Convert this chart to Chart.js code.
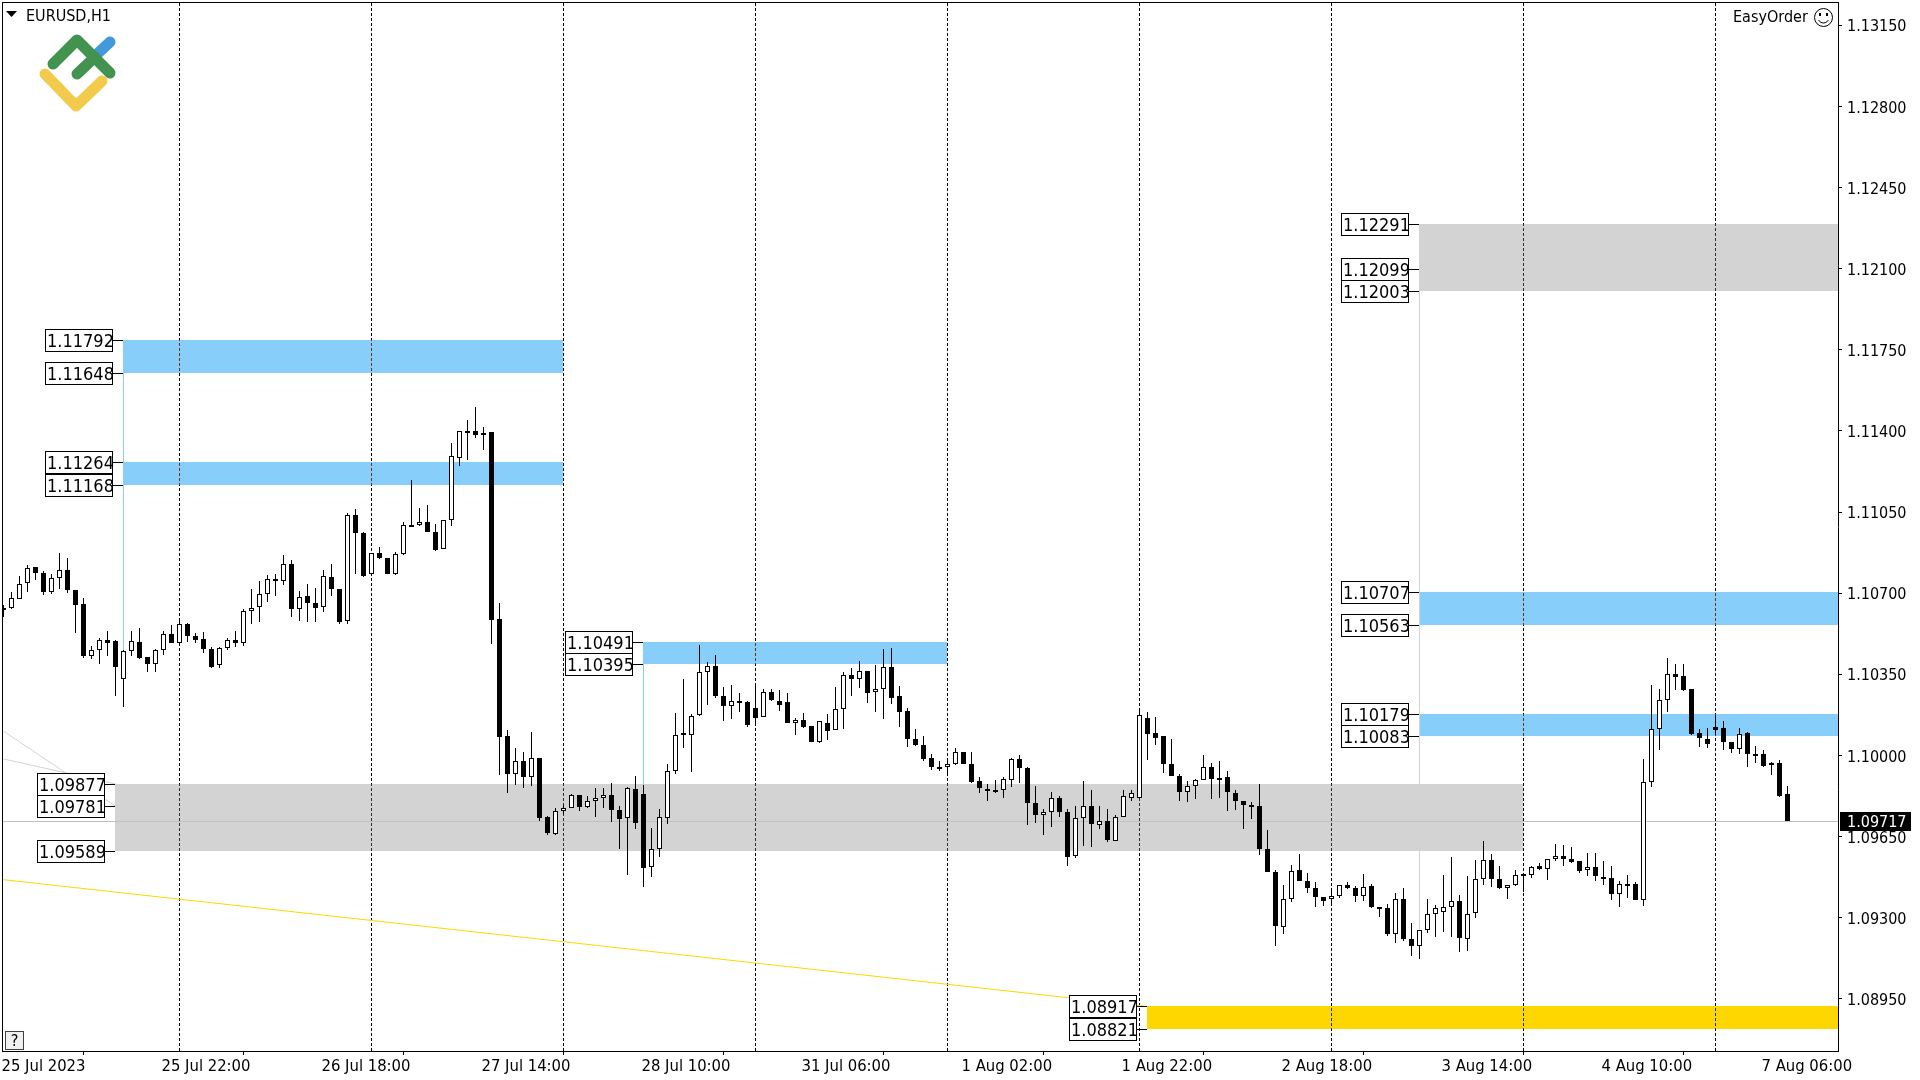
<!DOCTYPE html>
<html>
<head>
<meta charset="utf-8">
<title>EURUSD,H1</title>
<script src="https://cdn.jsdelivr.net/npm/chart.js@4/dist/chart.umd.js"></script>
<style>html,body{margin:0;padding:0;background:#fff}canvas{display:block}</style>
</head>
<body>
<canvas id="c" width="1920" height="1080"></canvas>
<script>
const opens = [1.10627,1.10635,1.10674,1.10743,1.10813,1.10788,1.10703,1.10765,1.10800,1.10713,
1.10653,1.10428,1.10454,1.10497,1.10493,1.10329,1.10450,1.10489,1.10424,1.10396,
1.10454,1.10523,1.10484,1.10566,1.10515,1.10502,1.10458,1.10389,1.10463,1.10497,
1.10483,1.10623,1.10640,1.10696,1.10761,1.10752,1.10826,1.10631,1.10687,1.10657,
1.10640,1.10769,1.10718,1.10579,1.11039,1.10961,1.10782,1.10873,1.10851,1.10782,
1.10868,1.10992,1.10992,1.11007,1.10963,1.10890,1.11015,1.11283,1.11398,1.11400,
1.11382,1.11395,1.10588,1.10082,1.09922,1.09974,1.09909,1.09987,1.09736,1.09661,
1.09762,1.09775,1.09831,1.09779,1.09805,1.09818,1.09831,1.09766,1.09728,1.09857,
1.09835,1.09520,1.09598,1.09732,1.09935,1.10095,1.10090,1.10173,1.10359,1.10385,
1.10255,1.10212,1.10236,1.10229,1.10203,1.10164,1.10272,1.10237,1.10229,1.10142,
1.10155,1.10125,1.10059,1.10142,1.10108,1.10199,1.10345,1.10328,1.10363,1.10272,
1.10285,1.10380,1.10255,1.10190,1.10069,1.10047,1.09991,1.09951,1.09948,1.09965,
1.10013,1.09965,1.09888,1.09856,1.09853,1.09852,1.09896,1.09983,1.09944,1.09797,
1.09744,1.09754,1.09818,1.09758,1.09566,1.09728,1.09784,1.09700,1.09719,1.09631,
1.09736,1.09817,1.09817,1.10160,1.10095,1.10082,1.09965,1.09913,1.09844,1.09870,
1.09892,1.09948,1.09902,1.09905,1.09840,1.09805,1.09787,1.09780,1.09598,1.09499,
1.09261,1.09382,1.09507,1.09460,1.09430,1.09391,1.09382,1.09394,1.09441,1.09430,
1.09394,1.09438,1.09346,1.09343,1.09229,1.09382,1.09209,1.09178,1.09247,1.09316,
1.09325,1.09348,1.09374,1.09210,1.09322,1.09465,1.09551,1.09469,1.09430,1.09439,
1.09489,1.09486,1.09521,1.09512,1.09554,1.09568,1.09555,1.09543,1.09504,1.09517,
1.09476,1.09473,1.09403,1.09445,1.09447,1.09378,1.09884,1.10113,1.10238,1.10350,
1.10342,1.10286,1.10095,1.10070,1.10121,1.10117,1.10057,1.10026,1.10095,1.10008,
1.10005,1.09957,1.09966,1.09832];
const highs = [1.10651,1.10705,1.10774,1.10821,1.10813,1.10794,1.10782,1.10875,1.10853,1.10713,
1.10679,1.10471,1.10506,1.10536,1.10497,1.10454,1.10536,1.10549,1.10424,1.10458,
1.10536,1.10562,1.10588,1.10571,1.10527,1.10532,1.10467,1.10466,1.10506,1.10536,
1.10631,1.10718,1.10752,1.10778,1.10782,1.10866,1.10843,1.10709,1.10739,1.10722,
1.10800,1.10826,1.10718,1.11048,1.11065,1.10964,1.10873,1.10899,1.10851,1.10877,
1.11007,1.11188,1.11067,1.11080,1.10998,1.11015,1.11348,1.11400,1.11447,1.11503,
1.11417,1.11395,1.10657,1.10108,1.10034,1.10013,1.10099,1.09991,1.09740,1.09775,
1.09788,1.09835,1.09831,1.09827,1.09861,1.09861,1.09883,1.09784,1.09866,1.09913,
1.09874,1.09689,1.09771,1.09965,1.10185,1.10330,1.10180,1.10475,1.10402,1.10432,
1.10294,1.10302,1.10268,1.10236,1.10302,1.10285,1.10285,1.10281,1.10268,1.10160,
1.10181,1.10125,1.10147,1.10177,1.10294,1.10358,1.10376,1.10406,1.10363,1.10389,
1.10459,1.10462,1.10298,1.10203,1.10116,1.10082,1.10008,1.09978,1.09990,1.10030,
1.10013,1.10017,1.09909,1.09875,1.09892,1.09909,1.09991,1.10004,1.09948,1.09870,
1.09767,1.09844,1.09823,1.09771,1.09780,1.09888,1.09849,1.09784,1.09767,1.09745,
1.09853,1.09853,1.10199,1.10186,1.10168,1.10082,1.10073,1.09922,1.09888,1.09898,
1.10004,1.09966,1.09974,1.09931,1.09849,1.09805,1.09801,1.09875,1.09680,1.09507,
1.09443,1.09529,1.09576,1.09494,1.09456,1.09391,1.09425,1.09441,1.09456,1.09437,
1.09490,1.09447,1.09346,1.09360,1.09408,1.09430,1.09278,1.09247,1.09382,1.09356,
1.09486,1.09560,1.09400,1.09478,1.09547,1.09629,1.09573,1.09521,1.09443,1.09504,
1.09495,1.09521,1.09534,1.09555,1.09616,1.09612,1.09603,1.09543,1.09581,1.09581,
1.09543,1.09525,1.09460,1.09486,1.09456,1.09983,1.10303,1.10286,1.10419,1.10394,
1.10394,1.10286,1.10113,1.10117,1.10173,1.10147,1.10057,1.10117,1.10103,1.10039,
1.10022,1.09970,1.09979,1.09867];
const lows = [1.10599,1.10630,1.10674,1.10707,1.10759,1.10690,1.10695,1.10719,1.10699,1.10530,
1.10422,1.10414,1.10396,1.10427,1.10258,1.10211,1.10427,1.10414,1.10358,1.10358,
1.10435,1.10483,1.10476,1.10491,1.10487,1.10444,1.10379,1.10379,1.10453,1.10466,
1.10474,1.10569,1.10574,1.10664,1.10686,1.10735,1.10599,1.10578,1.10575,1.10575,
1.10617,1.10686,1.10569,1.10566,1.10783,1.10770,1.10779,1.10846,1.10781,1.10777,
1.10866,1.10990,1.10988,1.10962,1.10884,1.10890,1.10988,1.11247,1.11273,1.11368,
1.11316,1.10482,1.09915,1.09838,1.09873,1.09860,1.09869,1.09717,1.09657,1.09657,
1.09748,1.09775,1.09761,1.09774,1.09735,1.09774,1.09713,1.09596,1.09484,1.09683,
1.09432,1.09475,1.09562,1.09704,1.09920,1.10033,1.09929,1.10172,1.10219,1.10249,
1.10150,1.10158,1.10189,1.10124,1.10137,1.10164,1.10236,1.10193,1.10141,1.10089,
1.10119,1.10059,1.10055,1.10068,1.10108,1.10115,1.10258,1.10292,1.10227,1.10188,
1.10158,1.10223,1.10124,1.10037,1.10042,1.09977,1.09938,1.09934,1.09926,1.09960,
1.09964,1.09882,1.09839,1.09802,1.09837,1.09817,1.09864,1.09882,1.09700,1.09709,
1.09657,1.09692,1.09735,1.09523,1.09558,1.09610,1.09605,1.09683,1.09627,1.09631,
1.09736,1.09804,1.09817,1.09981,1.10046,1.09925,1.09912,1.09804,1.09800,1.09811,
1.09892,1.09813,1.09817,1.09761,1.09765,1.09683,1.09726,1.09571,1.09497,1.09178,
1.09229,1.09368,1.09458,1.09407,1.09346,1.09350,1.09350,1.09385,1.09424,1.09368,
1.09372,1.09342,1.09303,1.09221,1.09191,1.09199,1.09134,1.09121,1.09234,1.09216,
1.09239,1.09217,1.09152,1.09157,1.09299,1.09443,1.09433,1.09423,1.09381,1.09435,
1.09409,1.09473,1.09504,1.09463,1.09543,1.09524,1.09534,1.09495,1.09478,1.09460,
1.09443,1.09377,1.09347,1.09386,1.09378,1.09351,1.09862,1.10025,1.10186,1.10283,
1.10280,1.10087,1.10038,1.10034,1.10087,1.10025,1.10012,1.10008,1.09951,1.09969,
1.09951,1.09917,1.09822,1.09717];
const closes = [1.10635,1.10679,1.10739,1.10808,1.10787,1.10703,1.10765,1.10800,1.10712,1.10651,
1.10427,1.10454,1.10497,1.10487,1.10383,1.10450,1.10493,1.10422,1.10396,1.10454,
1.10523,1.10487,1.10566,1.10515,1.10500,1.10461,1.10383,1.10463,1.10497,1.10483,
1.10623,1.10635,1.10696,1.10761,1.10751,1.10826,1.10630,1.10682,1.10656,1.10638,
1.10774,1.10720,1.10574,1.11039,1.10960,1.10772,1.10873,1.10850,1.10781,1.10869,
1.10994,1.10990,1.11007,1.10962,1.10888,1.11015,1.11292,1.11400,1.11397,1.11381,
1.11391,1.10586,1.10080,1.09920,1.09974,1.09907,1.09987,1.09730,1.09666,1.09762,
1.09775,1.09831,1.09778,1.09805,1.09818,1.09831,1.09765,1.09726,1.09861,1.09709,
1.09514,1.09598,1.09736,1.09935,1.10090,1.10090,1.10172,1.10359,1.10385,1.10258,
1.10215,1.10233,1.10234,1.10133,1.10163,1.10272,1.10239,1.10219,1.10141,1.10155,
1.10124,1.10059,1.10147,1.10106,1.10199,1.10345,1.10328,1.10363,1.10271,1.10285,
1.10380,1.10249,1.10188,1.10072,1.10046,1.09984,1.09951,1.09950,1.09964,1.10013,
1.09964,1.09886,1.09860,1.09855,1.09852,1.09899,1.09983,1.09947,1.09795,1.09744,
1.09754,1.09818,1.09756,1.09562,1.09728,1.09784,1.09705,1.09719,1.09636,1.09736,
1.09823,1.09840,1.10173,1.10093,1.10076,1.09964,1.09912,1.09843,1.09870,1.09896,
1.09948,1.09898,1.09901,1.09843,1.09804,1.09787,1.09786,1.09598,1.09497,1.09265,
1.09382,1.09503,1.09458,1.09428,1.09389,1.09372,1.09394,1.09441,1.09428,1.09394,
1.09434,1.09346,1.09343,1.09229,1.09382,1.09208,1.09178,1.09247,1.09316,1.09343,
1.09348,1.09374,1.09214,1.09318,1.09465,1.09551,1.09469,1.09427,1.09439,1.09486,
1.09488,1.09517,1.09508,1.09555,1.09568,1.09554,1.09541,1.09502,1.09517,1.09478,
1.09475,1.09403,1.09447,1.09444,1.09378,1.09884,1.10113,1.10238,1.10350,1.10340,
1.10283,1.10091,1.10074,1.10051,1.10108,1.10057,1.10026,1.10094,1.10008,1.10007,
1.09956,1.09966,1.09826,1.09717];

const symbolTitle = 'EURUSD,H1';
const expertTitle = 'EasyOrder';
const priceTicks = [1.13150,1.12800,1.12450,1.12100,1.11750,1.11400,1.11050,1.10700,1.10350,1.10000,1.09650,1.09300,1.08950];
const timeTickBars = [0,20,40,60,80,100,120,140,160,180,200,220];
const timeTickLabels = ['25 Jul 2023','25 Jul 22:00','26 Jul 18:00','27 Jul 14:00','28 Jul 10:00','31 Jul 06:00','1 Aug 02:00','1 Aug 22:00','2 Aug 18:00','3 Aug 14:00','4 Aug 10:00','7 Aug 06:00'];
const separatorBars = [22,46,70,94,118,142,166,190,214];
const lastPrice = 1.09717;

const zoneStartBars = [15,15,80,14,177,177,177,143];
const zoneEndBars = [70,70,118,190,null,null,null,null];
const zoneHighs = [1.11792,1.11264,1.10491,1.09877,1.12291,1.10707,1.10179,1.08917];
const zoneLows = [1.11648,1.11168,1.10395,1.09589,1.12003,1.10563,1.10083,1.08821];
const zoneColors = ['#87CEFA','#87CEFA','#87CEFA','#D3D3D3','#D3D3D3','#87CEFA','#87CEFA','#FFD700'];

const stemBars = [15,80,177];
const stemTops = [1.11792,1.10491,1.12291];
const stemBottoms = [1.10454,1.09874,1.09247];
const stemColors = ['#87CEFA','#87CEFA','#D3D3D3'];

const levelBars = [15,15,15,15,14,14,14,80,80,177,177,177,177,177,177,177,143,143];
const levelPrices = [1.11792,1.11648,1.11264,1.11168,1.09877,1.09781,1.09589,1.10491,1.10395,1.12291,1.12099,1.12003,1.10707,1.10563,1.10179,1.10083,1.08917,1.08821];

const goldLineBars = [0,143];
const goldLinePrices = [1.09464,1.08917];
const grayLineABars = [0,14];
const grayLineAPrices = [1.10105,1.09781];
const grayLineBBars = [0,14];
const grayLineBPrices = [1.09985,1.09877];

const FONT = '"DejaVu Sans Condensed","Liberation Sans",sans-serif';
const BAR_MIN = -0.0625, BAR_MAX = 229.3125;

const bodyData = opens.map((o,i)=>({x:i,y:[o,closes[i]]}));
const wickData = highs.map((h,i)=>({x:i,y:[lows[i],h]}));

const snapPlugin = {
  id:'snap',
  afterDatasetsUpdate(chart){
    chart.getDatasetMeta(0).data.forEach(el=>{
      el.y=Math.round(el.y); el.base=Math.round(el.base);
      if(Math.abs(el.base-el.y)<2){ el.base=el.y+2; }
    });
    chart.getDatasetMeta(1).data.forEach(el=>{
      el.y=Math.round(el.y); el.base=Math.round(el.base);
    });
  }
};

const underlayPlugin = {
  id:'underlay',
  beforeDraw(chart){
    const {ctx,width,height}=chart;
    ctx.save();ctx.fillStyle='#fff';ctx.fillRect(0,0,width,height);ctx.restore();
  },
  beforeDatasetsDraw(chart){
    const {ctx,chartArea:a,scales:{x,y}}=chart;
    ctx.save();
    zoneStartBars.forEach((s,i)=>{
      const l=Math.floor(x.getPixelForValue(s));
      const r=zoneEndBars[i]===null?a.right:Math.floor(x.getPixelForValue(zoneEndBars[i]));
      const t=Math.round(y.getPixelForValue(zoneHighs[i]));
      const b=Math.round(y.getPixelForValue(zoneLows[i]));
      ctx.fillStyle=zoneColors[i];
      ctx.fillRect(l,t,r-l,b-t);
    });
    stemBars.forEach((s,i)=>{
      const l=Math.floor(x.getPixelForValue(s));
      const t=Math.round(y.getPixelForValue(stemTops[i]));
      const b=Math.round(y.getPixelForValue(stemBottoms[i]));
      ctx.fillStyle=stemColors[i];
      ctx.fillRect(l,t,1,b-t);
    });
    const py=Math.round(y.getPixelForValue(lastPrice));
    ctx.fillStyle='#C0C0C0';
    ctx.fillRect(a.left,py,a.right-a.left,1);
    ctx.globalCompositeOperation='difference';
    ctx.strokeStyle='#fff';
    ctx.lineWidth=1;
    ctx.setLineDash([3,2]);
    separatorBars.forEach(s=>{
      const px=Math.floor(x.getPixelForValue(s))+0.5;
      ctx.beginPath();ctx.moveTo(px,a.top);ctx.lineTo(px,a.bottom);ctx.stroke();
    });
    ctx.restore();
  }
};

function drawLogo(ctx){
  ctx.save();
  ctx.lineCap='round';ctx.lineJoin='round';ctx.lineWidth=11;
  ctx.strokeStyle='#F2CB4C';
  ctx.beginPath();ctx.moveTo(45,74);ctx.lineTo(76,106);ctx.lineTo(102,81);ctx.stroke();
  ctx.strokeStyle='#4299DC';
  ctx.beginPath();ctx.moveTo(96,55);ctx.lineTo(110,42);ctx.stroke();
  ctx.strokeStyle='#41934F';
  ctx.beginPath();ctx.moveTo(53,64);ctx.lineTo(77,40);ctx.lineTo(110,73);ctx.stroke();
  ctx.beginPath();ctx.moveTo(77,74);ctx.lineTo(95,57);ctx.stroke();
  ctx.restore();
}

const overlayPlugin = {
  id:'overlay',
  afterDraw(chart){
    const {ctx,chartArea:a,scales:{x,y}}=chart;
    ctx.save();
    ctx.fillStyle='#000';
    ctx.fillRect(2,2,a.right-1,1);
    ctx.fillRect(2,2,1,a.bottom-1);

    ctx.textBaseline='middle';ctx.textAlign='left';
    levelPrices.forEach((p,i)=>{
      const zl=Math.floor(x.getPixelForValue(levelBars[i]));
      const py=Math.round(y.getPixelForValue(p));
      const bw=68,bh=23,bx=zl-10-bw,by=py-11;
      ctx.fillStyle='#000';
      ctx.fillRect(bx+bw,py,10,1);
      ctx.fillStyle='#fff';
      ctx.fillRect(bx,by,bw,bh);
      ctx.strokeStyle='#000';ctx.lineWidth=1;
      ctx.strokeRect(bx+0.5,by+0.5,bw-1,bh-1);
      ctx.fillStyle='#000';
      ctx.font='18px '+FONT;
      ctx.fillText(p.toFixed(5),bx+2,py+2);
    });

    ctx.fillStyle='#000';
    ctx.beginPath();ctx.moveTo(6,11);ctx.lineTo(17,11);ctx.lineTo(11.5,17);ctx.closePath();ctx.fill();
    ctx.font='16px '+FONT;
    ctx.textBaseline='alphabetic';
    ctx.fillText(symbolTitle,26,21);
    drawLogo(ctx);

    ctx.fillStyle='#000';
    ctx.fillText(expertTitle,1733,22);
    ctx.strokeStyle='#000';ctx.lineWidth=1;
    ctx.beginPath();ctx.arc(1823.5,17.5,9,0,Math.PI*2);ctx.stroke();
    ctx.fillRect(1819,13,2,3);ctx.fillRect(1826,13,2,3);
    ctx.beginPath();ctx.arc(1823.5,17.5,5.5,0.15*Math.PI,0.85*Math.PI);ctx.stroke();

    ctx.fillStyle='#F0F0F0';ctx.fillRect(5,1031,19,19);
    ctx.strokeStyle='#404040';ctx.strokeRect(5.5,1031.5,18,18);
    ctx.fillStyle='#000';ctx.textAlign='center';
    ctx.fillText('?',14.5,1046);

    const py=Math.round(y.getPixelForValue(lastPrice));
    ctx.fillStyle='#000';ctx.fillRect(1840,py-9,71,19);
    ctx.fillStyle='#fff';ctx.textAlign='left';ctx.textBaseline='middle';
    ctx.font='16px '+FONT;
    ctx.fillText(lastPrice.toFixed(5),1847,py+2);
    ctx.restore();
  }
};

Chart.defaults.color='#000';
new Chart(document.getElementById('c'),{
  type:'bar',
  data:{datasets:[
    {label:'Body',data:bodyData,barThickness:5,grouped:false,borderWidth:1,borderColor:'#000',borderSkipped:false,inflateAmount:0,
      backgroundColor:c=>{const r=c.raw; return r&&r.y[1]>r.y[0]?'#fff':'#000';}},
    {label:'Wick',data:wickData,barThickness:1,grouped:false,borderWidth:0,backgroundColor:'#000',inflateAmount:0},
    {type:'line',label:'Gold',data:goldLineBars.map((b,i)=>({x:b,y:goldLinePrices[i]})),borderColor:'#FFD700',borderWidth:1,pointRadius:0,fill:false},
    {type:'line',label:'GrayA',data:grayLineABars.map((b,i)=>({x:b,y:grayLineAPrices[i]})),borderColor:'#D3D3D3',borderWidth:1,pointRadius:0,fill:false},
    {type:'line',label:'GrayB',data:grayLineBBars.map((b,i)=>({x:b,y:grayLineBPrices[i]})),borderColor:'#D3D3D3',borderWidth:1,pointRadius:0,fill:false}
  ]},
  options:{
    responsive:false,animation:false,devicePixelRatio:1,events:[],
    layout:{padding:{left:3,top:3,right:0,bottom:0}},
    plugins:{legend:{display:false},tooltip:{enabled:false}},
    scales:{
      x:{type:'linear',min:BAR_MIN,max:BAR_MAX,offset:false,
        afterFit:s=>{s.height=29;s.paddingLeft=0;s.paddingRight=0;},
        afterBuildTicks:s=>{s.ticks=timeTickBars.map(v=>({value:v}));},
        grid:{drawOnChartArea:false,drawTicks:true,tickLength:4,tickColor:'#000'},
        border:{display:true,color:'#000',width:1},
        ticks:{autoSkip:false,maxRotation:0,minRotation:0,align:'start',padding:2,labelOffset:-2,color:'#000',font:{family:FONT,size:16.5},
          callback:(v,i)=>timeTickLabels[i]}},
      y:{type:'linear',position:'right',min:1.08725,max:1.13246,
        afterFit:s=>{s.width=82;s.paddingTop=0;s.paddingBottom=0;},
        afterBuildTicks:s=>{s.ticks=priceTicks.map(v=>({value:v}));},
        grid:{drawOnChartArea:false,drawTicks:true,tickLength:4,tickColor:'#000'},
        border:{display:true,color:'#000',width:1},
        ticks:{autoSkip:false,padding:5,labelOffset:2,color:'#000',font:{family:FONT,size:16},
          callback:v=>v.toFixed(5)}}
    }
  },
  plugins:[snapPlugin,underlayPlugin,overlayPlugin]
});
</script>
</body>
</html>
